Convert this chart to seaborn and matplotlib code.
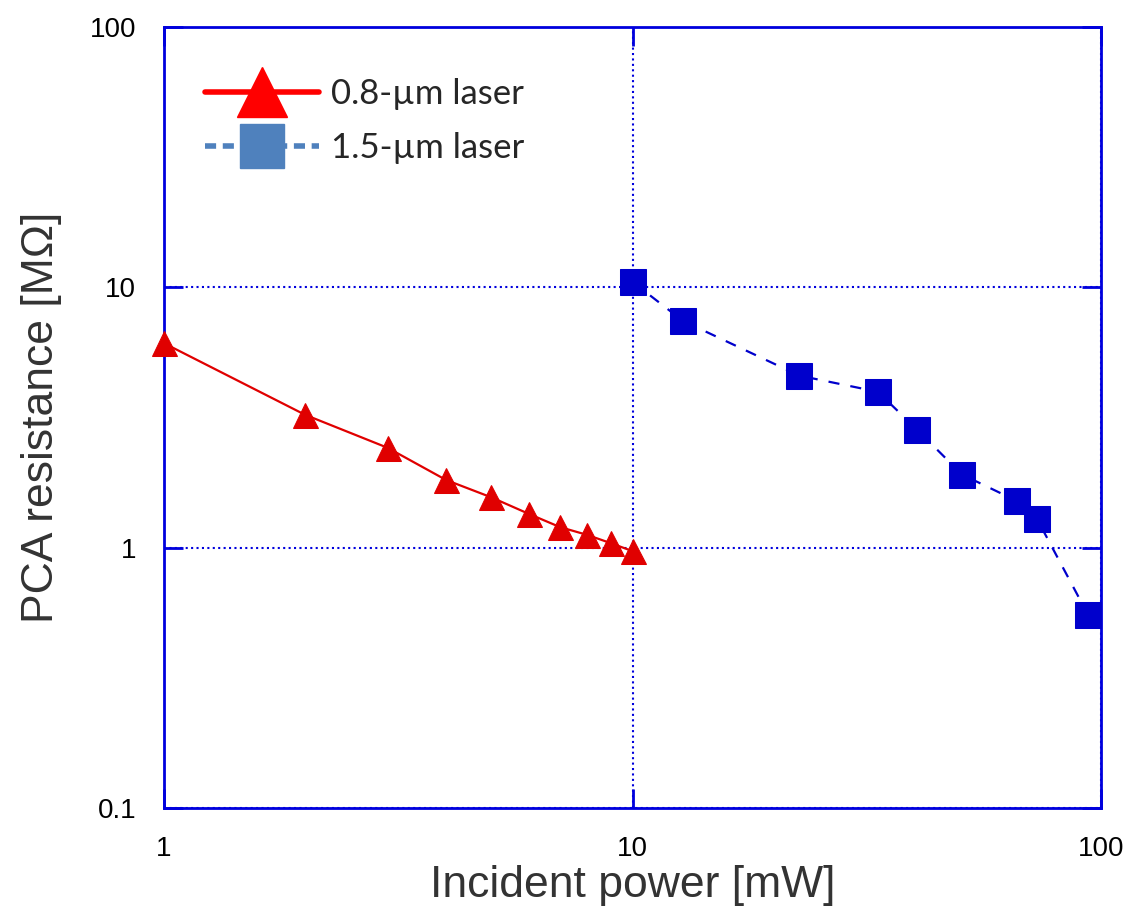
import matplotlib
matplotlib.use("Agg")
import matplotlib.pyplot as plt
from matplotlib.lines import Line2D
from matplotlib.ticker import FixedLocator, FixedFormatter, NullLocator
import seaborn as sns
import pandas as pd

# ---- data ----
power_08 = [1, 2, 3, 4, 5, 6, 7, 8, 9, 10]
res_08 = [6.1, 3.24, 2.42, 1.82, 1.56, 1.35, 1.20, 1.12, 1.04, 0.97]
power_15 = [10, 12.8, 22.7, 33.4, 40.5, 50.5, 66.2, 73.0, 93.8]
res_15 = [10.5, 7.44, 4.58, 3.97, 2.84, 1.91, 1.51, 1.29, 0.553]
tick_vals = [0.1, 1, 10, 100]
tick_labels = ["0.1", "1", "10", "100"]
xtick_vals = [1, 10, 100]
xtick_labels = ["1", "10", "100"]
label_08 = "0.8-\u00b5m laser"
label_15 = "1.5-\u00b5m laser"

sns.set_theme(style="white")
plt.rcParams['font.family'] = ['Liberation Sans', 'DejaVu Sans']

fig = plt.figure(figsize=(11.31, 9.11), dpi=100)
ax = fig.add_axes([0.145, 0.113, 0.8285, 0.8574])

df08 = pd.DataFrame({"p": power_08, "r": res_08})
df15 = pd.DataFrame({"p": power_15, "r": res_15})

sns.lineplot(data=df08, x="p", y="r", ax=ax, color="#E00000", lw=1.6,
             marker="^", markersize=18, markeredgecolor="#E00000",
             legend=False, zorder=3, clip_on=False)
sns.lineplot(data=df15, x="p", y="r", ax=ax, color="#0000CC", lw=1.6,
             marker="s", markersize=19, markeredgecolor="#0000CC",
             legend=False, zorder=3, clip_on=False)
ax.lines[-1].set_dashes((5, 5))

ax.set_xscale("log")
ax.set_yscale("log")
ax.set_xlim(1, 100)
ax.set_ylim(0.1, 100)

ax.xaxis.set_major_locator(FixedLocator(xtick_vals))
ax.xaxis.set_major_formatter(FixedFormatter(xtick_labels))
ax.yaxis.set_major_locator(FixedLocator(tick_vals))
ax.yaxis.set_major_formatter(FixedFormatter(tick_labels))
ax.xaxis.set_minor_locator(NullLocator())
ax.yaxis.set_minor_locator(NullLocator())

ax.grid(True, which="major", color="#0000DD", linestyle=(0, (1, 1.6)), lw=1.5)
for s in ax.spines.values():
    s.set_color("#0000DD")
    s.set_linewidth(2)
    s.set_visible(True)

ax.tick_params(axis="both", which="major", direction="in", length=14, width=2,
               color="#0000DD", top=True, right=True, bottom=True, left=True,
               labelsize=20, labelcolor="black")
ax.tick_params(axis="x", pad=20)
ax.tick_params(axis="y", pad=20)

ax.set_xlabel("Incident power [mW]", fontsize=32, color="#333333", labelpad=2)
ax.set_ylabel("PCA resistance [M\u03a9]", fontsize=32, color="#333333", labelpad=20)

handles = [
    Line2D([], [], color="#FF0000", lw=4, marker="^", markersize=36,
           markeredgecolor="#FF0000"),
    Line2D([], [], color="#4F81BD", lw=4, linestyle=(0, (2, 1.2)), marker="s",
           markersize=32, markeredgecolor="#4F81BD"),
]
leg = ax.legend(handles, [label_08, label_15], loc="upper left",
                bbox_to_anchor=(0.01, 0.975), frameon=False, handlelength=3.3,
                labelspacing=0.65, handletextpad=0.35,
                prop={"family": ["Lato", "DejaVu Sans"], "size": 25})

fig.savefig("out.png", dpi=100)
